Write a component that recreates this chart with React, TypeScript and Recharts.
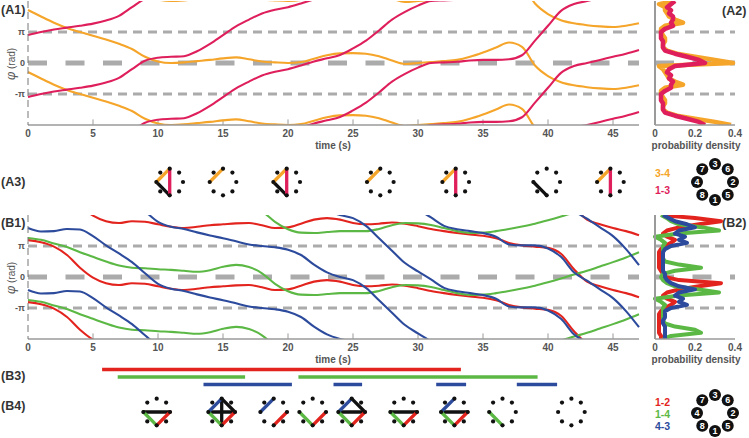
import React from 'react'
import { LineChart, Line, XAxis, YAxis, ReferenceLine, ScatterChart, Scatter } from 'recharts'

const PI = Math.PI
const FONT = '"Liberation Sans", Arial, sans-serif'

const ORANGE = '#F5A52A'
const PINK = '#DE1F5C'
const RED = '#E3241E'
const GREEN = '#5CB845'
const BLUE = '#2D4B9C'
const GRAY = '#ABABAB'
const AXIS = '#9A9A9A'
const INK = '#333'

// time samples (s)
const TIME = [0, 1, 2, 3, 4, 5, 6, 7, 8, 9, 10, 11, 12, 13, 14, 15, 16, 17, 18, 19, 20, 21, 22, 23,
  24, 25, 26, 27, 28, 29, 30, 31, 32, 33, 34, 35, 36, 37, 38, 39, 40, 41, 42, 43, 44, 45, 46, 47]
const TIME_TICKS = [0, 5, 10, 15, 20, 25, 30, 35, 40, 45]

// unwrapped phase differences, in units of pi
const A_PHI_34 = [1.71, 1.5, 1.3, 1.13, 1.0, 0.88, 0.76, 0.62, 0.45, 0.2, 0.05, 0.0, 0.02, 0.06, 0.1, 0.15,
  0.18, 0.12, 0.05, 0.02, 0.0, 0.03, 0.14, 0.25, 0.31, 0.32, 0.3, 0.22, 0.08, -0.03, 0.0, 0.03, 0.06, 0.1,
  0.2, 0.34, 0.5, 0.66, 0.52, -0.08, -0.42, -0.62, -0.72, -0.78, -0.82, -0.84, -0.8, -0.72]
const A_PHI_13 = [0.9, 1.0, 1.08, 1.14, 1.2, 1.27, 1.37, 1.52, 1.8, 2.07, 2.17, 2.2, 2.22, 2.38, 2.62, 2.9,
  3.18, 3.4, 3.6, 3.72, 3.8, 3.92, 4.05, 4.15, 4.26, 4.47, 4.72, 5.05, 5.4, 5.65, 5.85, 6.0, 6.02, 6.04,
  6.08, 6.1, 6.1, 6.12, 6.25, 6.72, 7.2, 7.68, 7.9, 8.0, 8.1, 8.2, 8.3, 8.42]
const B_PHI_12 = [1.19, 1.12, 0.98, 0.71, 0.3, -0.02, -0.2, -0.26, -0.2, -0.22, -0.3, -0.38, -0.42, -0.38,
  -0.33, -0.3, -0.27, -0.26, -0.33, -0.42, -0.4, -0.28, -0.15, -0.1, -0.15, -0.26, -0.3, -0.28, -0.24, -0.28,
  -0.36, -0.45, -0.52, -0.58, -0.63, -0.67, -0.75, -0.9, -0.98, -1.02, -1.06, -1.25, -1.75, -2.15, -2.3,
  -2.42, -2.52, -2.65]
const B_PHI_14 = [1.26, 1.2, 1.08, 0.97, 0.8, 0.65, 0.5, 0.37, 0.3, 0.28, 0.25, 0.23, 0.2, 0.17, 0.22, 0.33,
  0.39, 0.32, 0.12, -0.22, -0.46, -0.57, -0.58, -0.55, -0.52, -0.52, -0.52, -0.45, -0.33, -0.26, -0.27,
  -0.32, -0.42, -0.52, -0.58, -0.57, -0.52, -0.45, -0.37, -0.28, -0.17, -0.05, 0.08, 0.2, 0.34, 0.48, 0.63, 0.8]
const B_PHI_43 = [1.58, 1.47, 1.48, 1.55, 1.53, 1.32, 1.02, 0.76, 0.48, 0.12, -0.22, -0.38, -0.45, -0.56,
  -0.66, -0.75, -0.85, -0.95, -1.0, -1.04, -1.12, -1.29, -1.6, -1.85, -2.0, -2.1, -2.35, -2.75, -3.15, -3.55,
  -3.82, -4.08, -4.35, -4.46, -4.52, -4.58, -4.7, -4.95, -4.98, -4.98, -5.08, -5.35, -5.85, -6.12, -6.4,
  -6.68, -7.1, -7.62]

// probability density, phase grid in units of pi (top to bottom)
const PHI_GRID = [2, 1.9, 1.8, 1.7, 1.6, 1.5, 1.4, 1.3, 1.2, 1.1, 1, 0.9, 0.8, 0.7, 0.6, 0.5, 0.4, 0.3, 0.2,
  0.1, 0, -0.1, -0.2, -0.3, -0.4, -0.5, -0.6, -0.7, -0.8, -0.9, -1, -1.1, -1.2, -1.3, -1.4, -1.5, -1.6, -1.7,
  -1.8, -1.9, -2]
const A_DENS_34 = [0.1, 0.02, 0.05, 0.05, 0.06, 0.07, 0.1, 0.14, 0.05, 0.03, 0.03, 0.04, 0.05, 0.05, 0.04,
  0.04, 0.06, 0.11, 0.2, 0.3, 0.39, 0.02, 0.04, 0.05, 0.06, 0.07, 0.1, 0.14, 0.05, 0.03, 0.03, 0.04, 0.05,
  0.05, 0.04, 0.04, 0.06, 0.11, 0.2, 0.3, 0.38]
const A_DENS_13 = [0.1, 0.08, 0.06, 0.08, 0.07, 0.09, 0.09, 0.08, 0.09, 0.05, 0.03, 0.03, 0.03, 0.04, 0.04,
  0.04, 0.05, 0.1, 0.16, 0.22, 0.25, 0.1, 0.07, 0.06, 0.08, 0.07, 0.09, 0.08, 0.08, 0.05, 0.03, 0.03, 0.03,
  0.04, 0.04, 0.04, 0.05, 0.1, 0.16, 0.22, 0.25]
const B_DENS_12 = [0.03, 0.2, 0.33, 0.22, 0.12, 0.06, 0.04, 0.06, 0.1, 0.08, 0.05, 0.03, 0.02, 0.02, 0.02,
  0.02, 0.02, 0.02, 0.03, 0.04, 0.05, 0.12, 0.33, 0.22, 0.12, 0.06, 0.04, 0.06, 0.1, 0.08, 0.05, 0.03, 0.02,
  0.02, 0.02, 0.02, 0.02, 0.02, 0.02, 0.03, 0.03]
const B_DENS_14 = [0.03, 0.06, 0.08, 0.12, 0.24, 0.32, 0.12, 0.0, 0.03, 0.05, 0.04, 0.04, 0.04, 0.04, 0.04,
  0.05, 0.12, 0.23, 0.1, 0.04, 0.03, 0.04, 0.06, 0.1, 0.22, 0.32, 0.12, 0.0, 0.03, 0.05, 0.04, 0.04, 0.04,
  0.04, 0.04, 0.05, 0.1, 0.2, 0.23, 0.08, 0.04]
const B_DENS_43 = [0.04, 0.07, 0.1, 0.16, 0.2, 0.12, 0.1, 0.15, 0.12, 0.16, 0.08, 0.05, 0.04, 0.04, 0.04,
  0.04, 0.04, 0.04, 0.04, 0.05, 0.05, 0.06, 0.08, 0.12, 0.2, 0.12, 0.1, 0.14, 0.12, 0.16, 0.08, 0.05, 0.05,
  0.05, 0.04, 0.04, 0.05, 0.05, 0.05, 0.05, 0.05]

// snapshots of the coupling graph
const A3_TIMES = [10.9, 15, 19.9, 27.1, 32.9, 39.9, 44.8]
const A3_EDGES = [['1-4', '3-4', '1-3'], ['3-4'], ['1-4', '3-4', '1-3'], ['3-4'], ['3-4', '1-3'], ['1-4'], ['3-4', '1-3']]
const B4_TIMES = [9.9, 14.9, 18.9, 21.9, 24.9, 28.9, 32.8, 36.5, 41.8]
const B4_EDGES = [
  ['4-2', '1-4', '1-2'],
  ['4-2', '3-1', '3-2', '4-3', '1-4', '1-2'],
  ['4-3', '1-2'],
  ['1-4', '1-2'],
  ['4-2', '3-2', '4-3', '1-4', '1-2'],
  ['4-2', '1-4', '1-2'],
  ['4-2', '4-3', '1-4', '1-2'],
  ['1-4'],
  [],
]

// B3 locking intervals (s)
const B3_12 = [[5.7, 33.3]]
const B3_14 = [[6.9, 16.7], [20.8, 39.2]]
const B3_43 = [[13.5, 20.3], [23.5, 25.7], [31.4, 33.7], [37.6, 40.7]]

const A_EDGE_COLORS: Record<string, string> = { '3-4': ORANGE, '1-3': PINK }
const B_EDGE_COLORS: Record<string, string> = { '1-2': RED, '1-4': GREEN, '4-3': BLUE }
const NODE_ANGLE: Record<string, number> = { '3': -90, '6': -45, '2': 0, '5': 45, '1': 90, '8': 135, '4': 180, '7': -135 }
const NODES = ['1', '2', '3', '4', '5', '6', '7', '8']

const nodeXY = (n: string, r: number) => {
  const a = (NODE_ANGLE[n] * PI) / 180
  return [r * Math.cos(a), r * Math.sin(a)]
}

interface Trace { key: string; phi: number[]; color: string; shifts: number[] }

const A_TRACES: Trace[] = [
  { key: 'a34', phi: A_PHI_34, color: ORANGE, shifts: [2, 0, -2] },
  { key: 'a13', phi: A_PHI_13, color: PINK, shifts: [0, -2, -4, -6, -8, -10] },
]
const B_TRACES: Trace[] = [
  { key: 'b12', phi: B_PHI_12, color: RED, shifts: [-2, 0, 2, 4] },
  { key: 'b14', phi: B_PHI_14, color: GREEN, shifts: [-2, 0, 2] },
  { key: 'b43', phi: B_PHI_43, color: BLUE, shifts: [-2, 0, 2, 4, 6, 8] },
]

const tickStyle = { fill: '#555', fontSize: 10, fontWeight: 'bold', fontFamily: FONT }
const fmtPi = (v: number) => (v > 0.1 ? 'π' : v < -0.1 ? '-π' : '0')

// dashed guides at pi, 0, -pi (kept under the series)
const guideLines = () => [
  <ReferenceLine key="gp" y={PI} stroke={GRAY} strokeWidth={3} strokeDasharray="9 6" zIndex={-50} />,
  <ReferenceLine key="g0" y={0} stroke={GRAY} strokeWidth={5} strokeDasharray="19 18.5" zIndex={-50} />,
  <ReferenceLine key="gm" y={-PI} stroke={GRAY} strokeWidth={3} strokeDasharray="9 6" zIndex={-50} />,
]

const PhasePanel: React.FC<{ traces: Trace[] }> = ({ traces }) => {
  const copies = traces.flatMap((tr) =>
    tr.shifts.map((s) => ({
      key: `${tr.key}_${s}`,
      color: tr.color,
      data: TIME.map((t, i) => ({ t, phi: (tr.phi[i] + s) * PI })),
    }))
  )
  return (
    <LineChart width={650} height={152} margin={{ top: 1, right: 11, bottom: 0, left: 0 }}>
      <XAxis type="number" dataKey="t" domain={[0, 47]} ticks={TIME_TICKS} interval={0} height={27}
        tickLine={false} tickSize={5} tickMargin={0} axisLine={{ stroke: AXIS, strokeWidth: 1.5 }} tick={tickStyle} />
      <YAxis type="number" domain={[-2 * PI, 2 * PI]} ticks={[-PI, 0, PI]} interval={0} tickFormatter={fmtPi}
        width={28} tickLine={false} tickSize={3} tickMargin={0} allowDataOverflow
        axisLine={{ stroke: '#777', strokeDasharray: '7 4' }} tick={{ ...tickStyle, fontSize: 9 }} />
      {guideLines()}
      {TIME_TICKS.slice(1).map((t) => (
        <ReferenceLine key={t} segment={[{ x: t, y: -2 * PI }, { x: t, y: -1.82 * PI }]} stroke={AXIS} strokeWidth={1} />
      ))}
      {copies.map((c) => (
        <Line key={c.key} data={c.data} dataKey="phi" type="monotone" stroke={c.color} strokeWidth={2.1}
          dot={false} activeDot={false} isAnimationActive={false} />
      ))}
    </LineChart>
  )
}

interface DensSeries { key: string; values: number[]; color: string }

const DensityPanel: React.FC<{ series: DensSeries[]; width: number }> = ({ series, width }) => {
  const data = PHI_GRID.map((p, i) => {
    const row: Record<string, number> = { phi: p * PI }
    series.forEach((s) => { row[s.key] = s.values[i] })
    return row
  })
  return (
    <LineChart layout="vertical" width={109} height={152} data={data} margin={{ top: 1, right: 14, bottom: 0, left: 0 }}>
      <XAxis type="number" domain={[0, 0.4]} ticks={[0, 0.2, 0.4]} interval={0} height={27}
        tickLine={false} tickSize={5} tickMargin={0} axisLine={{ stroke: AXIS, strokeWidth: 1.5 }} tick={tickStyle} />
      <YAxis type="number" dataKey="phi" domain={[-2 * PI, 2 * PI]} width={15} tick={false} tickLine={false}
        reversed allowDataOverflow axisLine={{ stroke: AXIS, strokeWidth: 2 }} />
      {guideLines()}
      {series.map((s) => (
        <Line key={s.key} dataKey={s.key} type="linear" stroke={s.color} strokeWidth={width}
          strokeLinejoin="round" dot={false} activeDot={false} isAnimationActive={false} />
      ))}
    </LineChart>
  )
}

const IconShape = (props: any) => {
  const { cx, cy, payload } = props
  const R = 13.3
  return (
    <g>
      {payload.edges.map((e: string) => {
        const [a, b] = e.split('-')
        const [x1, y1] = nodeXY(a, R)
        const [x2, y2] = nodeXY(b, R)
        return (
          <line key={e} x1={cx + x1} y1={cy + y1} x2={cx + x2} y2={cy + y2}
            stroke={payload.colors[e] ?? '#111'} strokeWidth={3.3} strokeLinecap="round" />
        )
      })}
      {NODES.map((n) => {
        const [x, y] = nodeXY(n, R)
        return <circle key={n} cx={cx + x} cy={cy + y} r={2.1} fill="#111" />
      })}
    </g>
  )
}

const IconRow: React.FC<{ times: number[]; edges: string[][]; colors: Record<string, string> }> = ({ times, edges, colors }) => {
  const data = times.map((t, i) => ({ t, y: 0.5, edges: edges[i], colors }))
  return (
    <ScatterChart width={650} height={40} margin={{ top: 0, right: 11, bottom: 0, left: 28 }}>
      <XAxis type="number" dataKey="t" domain={[0, 47]} hide />
      <YAxis type="number" dataKey="y" domain={[0, 1]} hide />
      <Scatter data={data} shape={IconShape} isAnimationActive={false} />
    </ScatterChart>
  )
}

const IntervalPanel: React.FC = () => {
  const rows = [
    { key: 'r12', spans: B3_12, color: RED, row: 3 },
    { key: 'r14', spans: B3_14, color: GREEN, row: 2 },
    { key: 'r43', spans: B3_43, color: BLUE, row: 1 },
  ]
  return (
    <LineChart width={650} height={30} margin={{ top: 0, right: 11, bottom: 0, left: 28 }}>
      <XAxis type="number" dataKey="t" domain={[0, 47]} hide />
      <YAxis type="number" domain={[0, 4]} hide />
      {rows.flatMap((r) =>
        r.spans.map(([s, e], i) => (
          <Line key={`${r.key}_${i}`} data={[{ t: s, v: r.row }, { t: e, v: r.row }]} dataKey="v" type="linear"
            stroke={r.color} strokeWidth={3.5} dot={false} activeDot={false} isAnimationActive={false} />
        ))
      )}
    </LineChart>
  )
}

const NodeKey: React.FC<{ cx: number; cy: number }> = ({ cx, cy }) => (
  <g>
    {NODES.map((n) => {
      const [x, y] = nodeXY(n, 18)
      return (
        <g key={n}>
          <circle cx={cx + x} cy={cy + y} r={6} fill="#111" />
          <text x={cx + x} y={cy + y + 3.2} fill="#fff" fontSize={9} fontWeight="bold" textAnchor="middle">{n}</text>
        </g>
      )
    })}
  </g>
)

const PanelLabel: React.FC<{ x: number; y: number; text: string }> = ({ x, y, text }) => (
  <text x={x} y={y} fontSize={12.5} fontWeight="bold" fill={INK}>{text}</text>
)

const AxisTitle: React.FC<{ x: number; y: number; text: string }> = ({ x, y, text }) => (
  <text x={x} y={y} fontSize={10} fontWeight="bold" fill="#555" textAnchor="middle">{text}</text>
)

const PhiLabel: React.FC<{ cy: number }> = ({ cy }) => (
  <text x={0} y={0} transform={`translate(15, ${cy}) rotate(-90)`} fontSize={10} fill="#555" textAnchor="middle">
    <tspan fontStyle="italic" fontSize={12} fontFamily="DejaVu Serif">φ</tspan> (rad)
  </text>
)

const App: React.FC = () => (
  <div style={{ position: 'absolute', left: 0, top: 0, width: 749, height: 438, background: '#fff', fontFamily: FONT }}>
    <div style={{ position: 'absolute', left: 0, top: 0 }}>
      <PhasePanel traces={A_TRACES} />
    </div>
    <div style={{ position: 'absolute', left: 640, top: 0 }}>
      <DensityPanel width={4.5} series={[
        { key: 'd34', values: A_DENS_34, color: ORANGE },
        { key: 'd13', values: A_DENS_13, color: PINK },
      ]} />
    </div>
    <div style={{ position: 'absolute', left: 0, top: 162 }}>
      <IconRow times={A3_TIMES} edges={A3_EDGES} colors={A_EDGE_COLORS} />
    </div>
    <div style={{ position: 'absolute', left: 0, top: 214 }}>
      <PhasePanel traces={B_TRACES} />
    </div>
    <div style={{ position: 'absolute', left: 640, top: 214 }}>
      <DensityPanel width={4} series={[
        { key: 'd12', values: B_DENS_12, color: RED },
        { key: 'd14', values: B_DENS_14, color: GREEN },
        { key: 'd43', values: B_DENS_43, color: BLUE },
      ]} />
    </div>
    <div style={{ position: 'absolute', left: 0, top: 362 }}>
      <IntervalPanel />
    </div>
    <div style={{ position: 'absolute', left: 0, top: 392 }}>
      <IconRow times={B4_TIMES} edges={B4_EDGES} colors={B_EDGE_COLORS} />
    </div>
    <svg width={749} height={438} style={{ position: 'absolute', left: 0, top: 0, pointerEvents: 'none', fontFamily: FONT }}>
      <PanelLabel x={1} y={14} text="(A1)" />
      <PanelLabel x={722} y={15} text="(A2)" />
      <PanelLabel x={1} y={186} text="(A3)" />
      <PanelLabel x={1} y={227} text="(B1)" />
      <PanelLabel x={722} y={227} text="(B2)" />
      <PanelLabel x={1} y={380} text="(B3)" />
      <PanelLabel x={1} y={410} text="(B4)" />
      <PhiLabel cy={64} />
      <PhiLabel cy={278} />
      <AxisTitle x={333} y={149} text="time (s)" />
      <AxisTitle x={696} y={149} text="probability density" />
      <AxisTitle x={333} y={363} text="time (s)" />
      <AxisTitle x={696} y={363} text="probability density" />
      <text x={655} y={177} fontSize={10.5} fontWeight="bold" fill={ORANGE}>3-4</text>
      <text x={655} y={194} fontSize={10.5} fontWeight="bold" fill={PINK}>1-3</text>
      <text x={655} y={406} fontSize={10.5} fontWeight="bold" fill={RED}>1-2</text>
      <text x={655} y={418} fontSize={10.5} fontWeight="bold" fill={GREEN}>1-4</text>
      <text x={655} y={430} fontSize={10.5} fontWeight="bold" fill={BLUE}>4-3</text>
      <NodeKey cx={715} cy={182} />
      <NodeKey cx={715} cy={413} />
    </svg>
  </div>
)

export default App
